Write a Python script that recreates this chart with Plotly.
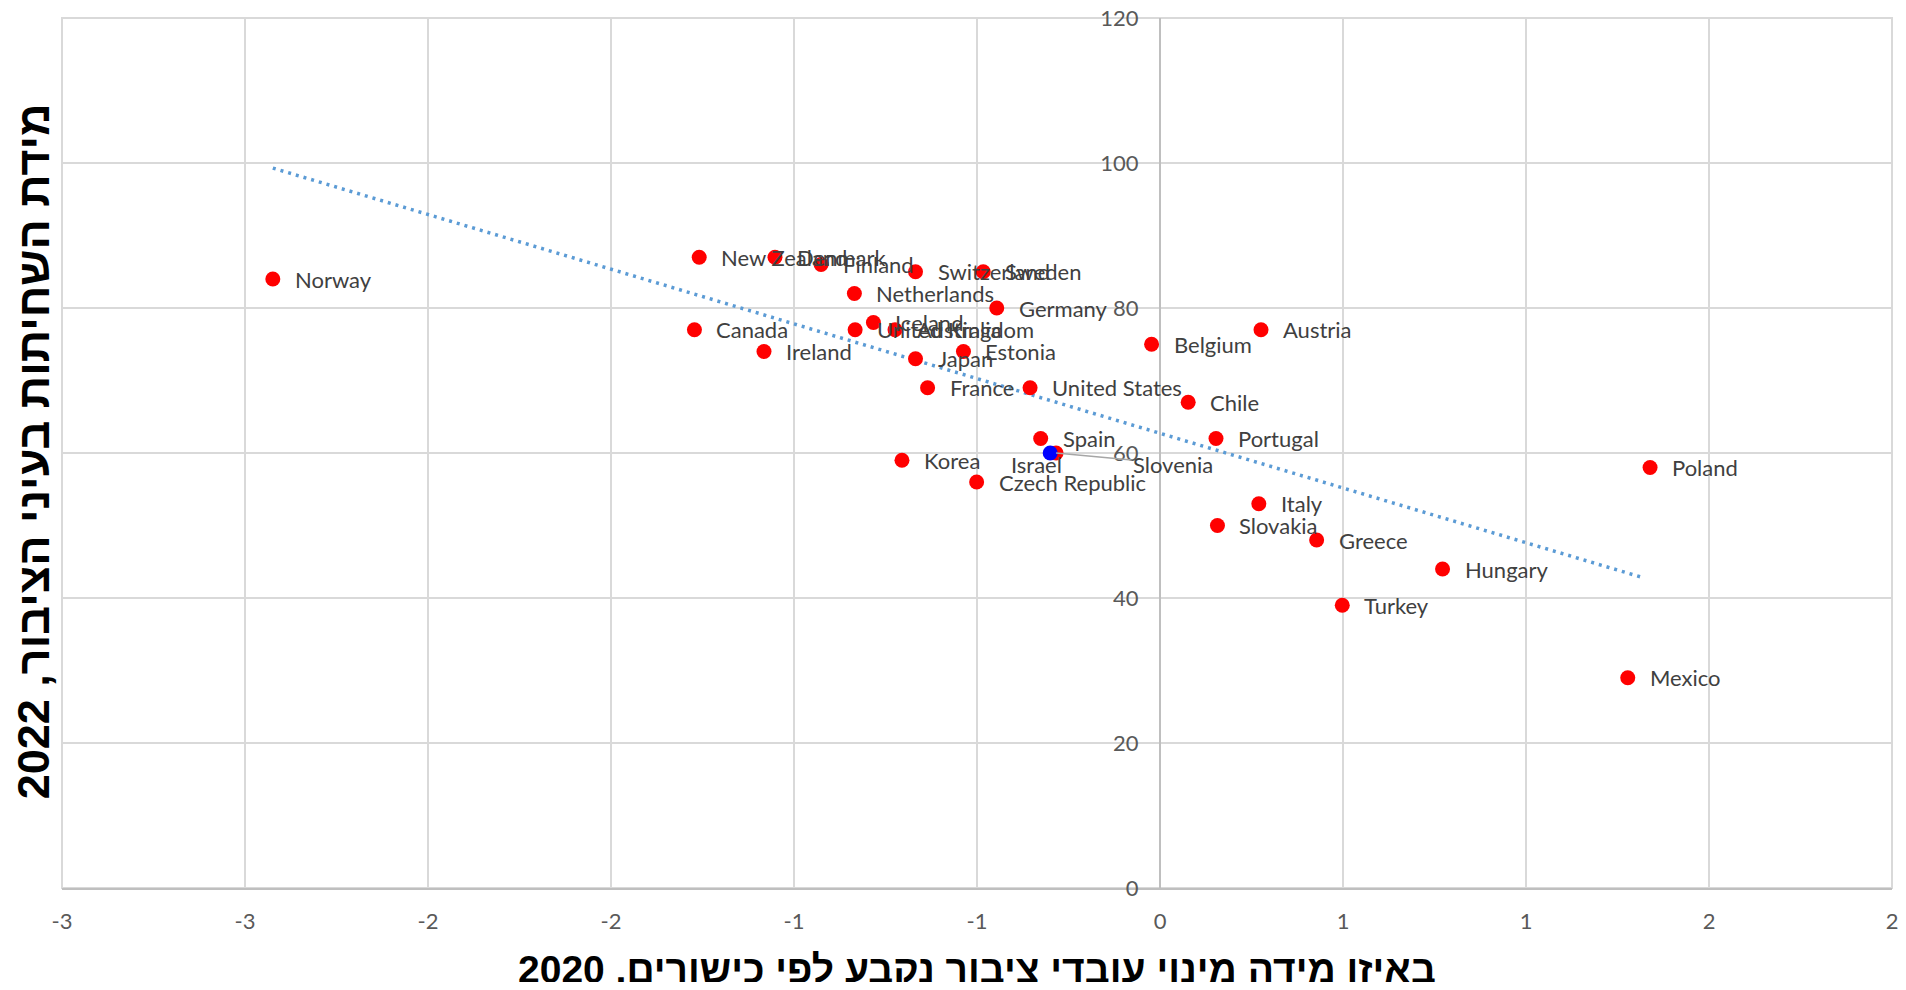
import plotly.graph_objects as go

# ---- data ----
countries = ["Norway", "New Zealand", "Denmark", "Finland", "Switzerland", "Sweden",
             "Netherlands", "Germany", "Iceland", "United Kingdom", "Australia", "Canada",
             "Ireland", "Japan", "Estonia", "France", "United States", "Spain", "Slovenia",
             "Korea", "Czech Republic", "Belgium", "Austria", "Chile", "Portugal", "Italy",
             "Slovakia", "Greece", "Hungary", "Turkey", "Mexico", "Poland", "Israel"]
merit_2020 = [-2.424, -1.259, -1.052, -0.926, -0.668, -0.483,
              -0.835, -0.446, -0.783, -0.833, -0.724, -1.272,
              -1.082, -0.668, -0.537, -0.635, -0.355, -0.326, -0.284,
              -0.705, -0.501, -0.023, 0.276, 0.077, 0.153, 0.270,
              0.157, 0.428, 0.772, 0.498, 1.278, 1.339, -0.300]
cpi_2022 = [84, 87, 87, 86, 85, 85,
            82, 80, 78, 77, 77, 77,
            74, 73, 74, 69, 69, 62, 60,
            59, 56, 75, 77, 67, 62, 53,
            50, 48, 44, 39, 29, 58, 60]

trend_x = [-2.424, 1.320]
trend_y = [99.3, 42.8]

x_tick_vals = [-3, -2.5, -2, -1.5, -1, -0.5, 0, 0.5, 1, 1.5, 2]
x_tick_text = ["-3", "-3", "-2", "-2", "-1", "-1", "0", "1", "1", "2", "2"]
y_tick_vals = [0, 20, 40, 60, 80, 100, 120]

x_title = "באיזו מידה מינוי עובדי ציבור נקבע לפי כישורים, 2020"
y_title = "מידת השחיתות בעיני הציבור, 2022"
highlight = "Israel"

# ---- figure ----
LABEL_FONT = dict(family="Lato, Open Sans, sans-serif", size=22, color="#404040")
TICK_FONT = dict(family="Lato, Open Sans, sans-serif", size=22, color="#595959")
TITLE_FONT = "Liberation Sans, DejaVu Sans, Arial, sans-serif"

fig = go.Figure()

fig.add_trace(go.Scatter(
    x=trend_x, y=trend_y, mode="lines",
    line=dict(color="#5B9BD5", width=3.5, dash="3px,5px"),
    hoverinfo="skip", showlegend=False))

others = [i for i, c in enumerate(countries) if c != highlight]
hi = [i for i, c in enumerate(countries) if c == highlight]

fig.add_trace(go.Scatter(
    x=[merit_2020[i] for i in others], y=[cpi_2022[i] for i in others],
    mode="markers", text=[countries[i] for i in others],
    marker=dict(color="#FF0000", size=15, line=dict(width=0)),
    showlegend=False))
fig.add_trace(go.Scatter(
    x=[merit_2020[i] for i in hi], y=[cpi_2022[i] for i in hi],
    mode="markers", text=[countries[i] for i in hi],
    marker=dict(color="#0000FF", size=15, line=dict(width=0)),
    showlegend=False))

annotations = []
for name, xv, yv in zip(countries, merit_2020, cpi_2022):
    if name == "Israel":
        annotations.append(dict(x=xv, y=yv, text=name, showarrow=False,
                                xanchor="center", yanchor="middle",
                                xshift=-14, yshift=-11, font=LABEL_FONT))
    elif name == "Slovenia":
        annotations.append(dict(x=xv, y=yv, text=name, showarrow=True,
                                arrowhead=0, arrowwidth=1.5, arrowcolor="#A6A6A6",
                                ax=117, ay=11, standoff=0, font=LABEL_FONT))
    else:
        annotations.append(dict(x=xv, y=yv, text=name, showarrow=False,
                                xanchor="left", yanchor="middle",
                                xshift=20, font=LABEL_FONT))

annotations.append(dict(xref="paper", yref="paper", x=0.5, y=-0.0934,
                        xanchor="center", yanchor="middle", showarrow=False,
                        text="<b>" + x_title + "</b>",
                        font=dict(family=TITLE_FONT, size=39, color="#000000")))
annotations.append(dict(xref="paper", yref="paper", x=-0.0158, y=0.502,
                        xanchor="center", yanchor="middle", showarrow=False,
                        textangle=-90,
                        text="<b>" + y_title + "</b>",
                        font=dict(family=TITLE_FONT, size=45, color="#000000")))

fig.update_layout(
    width=1890, height=974,
    margin=dict(l=54, r=6, t=10, b=94, autoexpand=False),
    paper_bgcolor="white", plot_bgcolor="white",
    showlegend=False,
    annotations=annotations,
    shapes=[dict(type="rect", xref="paper", yref="paper", x0=0, y0=0, x1=1, y1=1,
                 line=dict(color="#D9D9D9", width=2), layer="below")],
    xaxis=dict(range=[-3, 2], domain=[0, 1], automargin=False,
               tickvals=x_tick_vals, ticktext=x_tick_text,
               tickfont=TICK_FONT, ticks="", ticklabelstandoff=13,
               ticklabeloverflow="allow",
               showgrid=True, gridcolor="#D9D9D9", gridwidth=2,
               zeroline=False, showline=True, linecolor="#BFBFBF", linewidth=2,
               fixedrange=True),
    yaxis=dict(range=[0, 120], tickvals=y_tick_vals, automargin=False,
               anchor="free", position=0.6, side="left",
               tickfont=TICK_FONT, ticks="", ticklabelstandoff=16,
               ticklabeloverflow="allow",
               showgrid=True, gridcolor="#D9D9D9", gridwidth=2,
               zeroline=False, showline=True, linecolor="#BFBFBF", linewidth=2,
               fixedrange=True),
)

fig.write_html("out.html")
